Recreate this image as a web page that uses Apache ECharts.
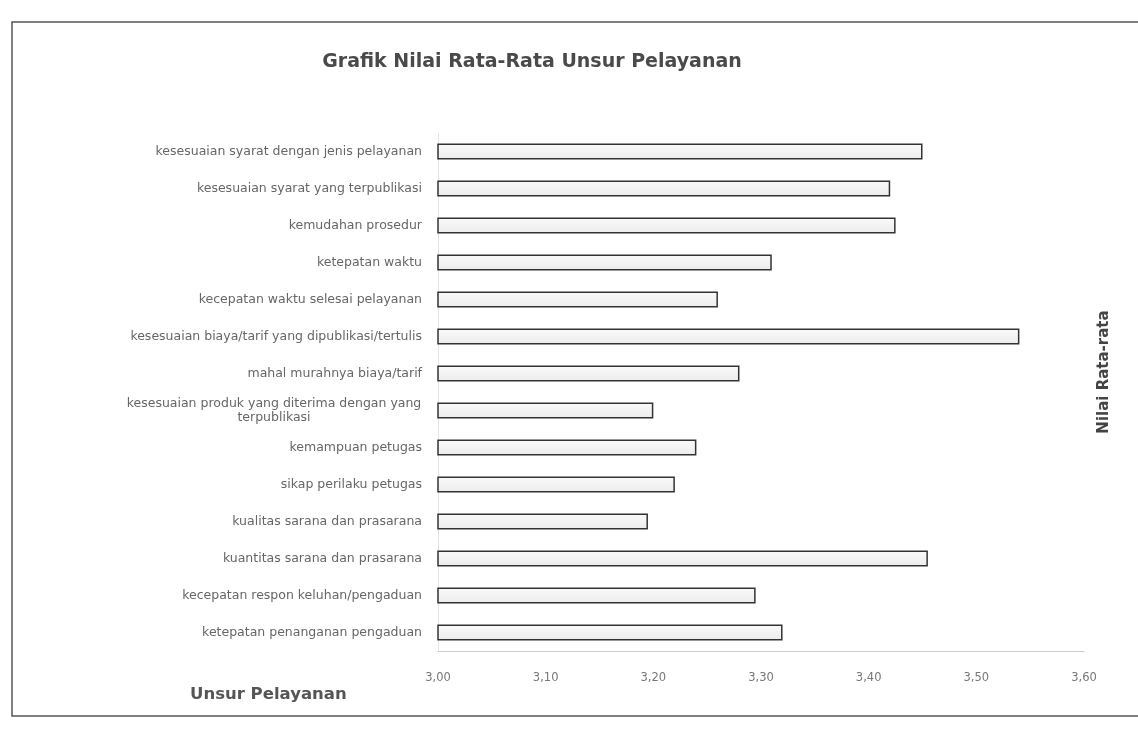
<!DOCTYPE html>
<html>
<head>
<meta charset="utf-8">
<script src="https://cdn.jsdelivr.net/npm/echarts@6/dist/echarts.min.js"></script>
<style>
html,body{margin:0;padding:0;background:#fff;}
#chart{width:1138px;height:735px;}
</style>
</head>
<body>
<div id="chart"></div>
<script>
var categories = [
  "kesesuaian syarat dengan jenis pelayanan",
  "kesesuaian syarat yang terpublikasi",
  "kemudahan prosedur",
  "ketepatan waktu",
  "kecepatan waktu selesai pelayanan",
  "kesesuaian biaya/tarif yang dipublikasi/tertulis",
  "mahal murahnya biaya/tarif",
  "kesesuaian produk yang diterima dengan yang\nterpublikasi",
  "kemampuan petugas",
  "sikap perilaku petugas",
  "kualitas sarana dan prasarana",
  "kuantitas sarana dan prasarana",
  "kecepatan respon keluhan/pengaduan",
  "ketepatan penanganan pengaduan"
];
var values = [3.45, 3.42, 3.425, 3.31, 3.26, 3.54, 3.28, 3.20, 3.24, 3.22, 3.195, 3.455, 3.295, 3.32];
var xTicks = ["3,00", "3,10", "3,20", "3,30", "3,40", "3,50", "3,60"];

var LABEL_FONT = '12.5px "DejaVu Sans"';
var measureCtx = document.createElement('canvas').getContext('2d');
measureCtx.font = LABEL_FONT;
function widest(lines) {
  var w = 0;
  lines.forEach(function (l) { w = Math.max(w, measureCtx.measureText(l).width); });
  return Math.ceil(w) + 1;
}

var chart = echarts.init(document.getElementById('chart'));
chart.setOption({
  backgroundColor: '#fff',
  animation: false,
  title: {
    text: 'Grafik Nilai Rata-Rata Unsur Pelayanan',
    left: 527, top: 48, textAlign: 'center',
    textStyle: {fontFamily: 'DejaVu Sans', fontSize: 19, fontWeight: 'bold', color: '#4a4a4a'}
  },
  graphic: [
    {type: 'rect', shape: {x: 12, y: 22, width: 1140, height: 694},
     style: {fill: 'none', stroke: '#555', lineWidth: 1.5}},
    {type: 'text', left: 190, top: 686,
     style: {text: 'Unsur Pelayanan', font: 'bold 16.5px "DejaVu Sans"', fill: '#555'}},
    {type: 'text', x: 1104, y: 372, rotation: Math.PI / 2, originX: 0, originY: 0,
     style: {text: 'Nilai Rata-rata', font: 'bold 15px "DejaVu Sans"', fill: '#444', align: 'center', verticalAlign: 'middle'}}
  ],
  grid: {left: 438, right: 54, top: 133, bottom: 84},
  xAxis: {
    type: 'value', min: 3, max: 3.6, interval: 0.1,
    axisLine: {show: true, lineStyle: {color: '#ccc'}},
    axisTick: {show: false},
    splitLine: {show: false},
    axisLabel: {
      margin: 21, fontFamily: 'DejaVu Sans', fontSize: 11.5, color: '#777',
      formatter: function (v) { return xTicks[Math.round((v - 3) * 10)]; }
    }
  },
  yAxis: {
    type: 'category', data: categories, inverse: true,
    axisLine: {show: true, lineStyle: {color: '#e4e4e4'}},
    axisTick: {show: false},
    axisLabel: {
      margin: 16, fontFamily: 'DejaVu Sans', fontSize: 12.5, color: '#666', lineHeight: 14, align: 'right',
      formatter: function (v) {
        var lines = v.split('\n');
        if (lines.length === 1) return v;
        return lines.map(function (l) { return '{c|' + l + '}'; }).join('\n');
      },
      rich: {
        c: {width: widest(["kesesuaian produk yang diterima dengan yang"]), align: 'center',
            fontFamily: 'DejaVu Sans', fontSize: 12.5, color: '#666', lineHeight: 14}
      }
    }
  },
  series: [{
    type: 'bar', data: values, barWidth: 16,
    itemStyle: {
      color: new echarts.graphic.LinearGradient(0, 0, 0, 1, [
        {offset: 0, color: '#fafafa'}, {offset: 1, color: '#ececec'}
      ]),
      borderColor: '#333', borderWidth: 1.5
    }
  }]
});
</script>
</body>
</html>
